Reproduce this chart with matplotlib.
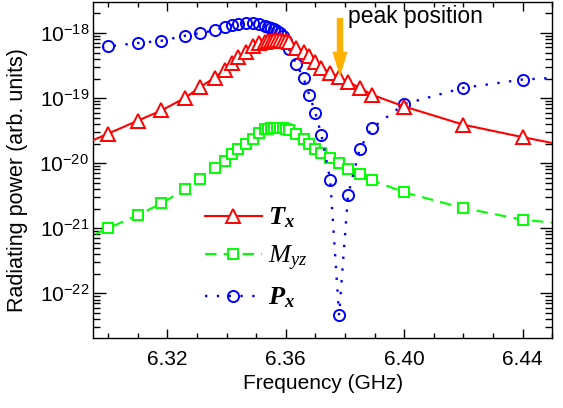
import matplotlib
matplotlib.use("Agg")
import matplotlib.pyplot as plt
from matplotlib.ticker import MultipleLocator, NullFormatter, FixedLocator, LogFormatterSciNotation

plt.rcParams['font.family'] = ['Liberation Sans', 'DejaVu Sans']
plt.rcParams['mathtext.fontset'] = 'custom'
plt.rcParams['mathtext.rm'] = 'Liberation Serif'
plt.rcParams['mathtext.it'] = 'Liberation Serif:italic'
plt.rcParams['mathtext.bf'] = 'Liberation Serif:italic:bold'

freq = [6.290, 6.300, 6.310, 6.318, 6.326, 6.331, 6.336, 6.3395, 6.342, 6.344, 6.3465,
        6.349, 6.351, 6.353, 6.354, 6.355, 6.356, 6.357, 6.358, 6.359, 6.360,
        6.361, 6.3635, 6.366, 6.368, 6.370, 6.372, 6.375, 6.378, 6.381, 6.385,
        6.389, 6.400, 6.420, 6.440, 6.460]

t_x = [1.80e-20, 2.84e-20, 4.49e-20, 6.46e-20, 1.01e-19, 1.47e-19, 2.07e-19, 2.74e-19,
       3.47e-19, 4.29e-19, 5.05e-19, 6.24e-19, 7.03e-19, 7.23e-19, 7.43e-19, 7.62e-19,
       7.73e-19, 7.78e-19, 7.76e-19, 7.62e-19, 7.43e-19, 7.18e-19, 5.96e-19, 5.18e-19,
       4.42e-19, 3.57e-19, 2.94e-19, 2.47e-19, 2.10e-19, 1.78e-19, 1.44e-19, 1.13e-19,
       7.43e-20, 3.90e-20, 2.51e-20, 1.66e-20]

m_yz = [6.2e-22, 9.98e-22, 1.59e-21, 2.40e-21, 3.98e-21, 5.66e-21, 8.51e-21, 1.08e-20,
        1.37e-20, 1.67e-20, 2.00e-20, 2.32e-20, 2.92e-20, 3.30e-20, 3.39e-20, 3.45e-20,
        3.49e-20, 3.51e-20, 3.50e-20, 3.45e-20, 3.37e-20, 3.25e-20, 2.77e-20, 2.32e-20,
        1.95e-20, 1.67e-20, 1.45e-20, 1.21e-20, 9.96e-21, 8.26e-21, 6.76e-21, 5.53e-21,
        3.55e-21, 2.04e-21, 1.35e-21, 1.10e-21]

p_x = [5.53e-19, 6.24e-19, 7.03e-19, 7.62e-19, 9.09e-19, 1.00e-18, 1.10e-18, 1.26e-18,
       1.34e-18, 1.39e-18, 1.42e-18, 1.42e-18, 1.39e-18, 1.30e-18, 1.26e-18, 1.21e-18,
       1.14e-18, 1.06e-18, 9.86e-19, 8.93e-19, 7.62e-19, 5.75e-19, 3.39e-19, 2.03e-19,
       1.10e-19, 5.92e-20, 2.72e-20, 5.57e-21, 4.57e-23, 3.22e-21, 1.67e-20, 3.42e-20,
       8.09e-20, 1.44e-19, 1.93e-19, 2.16e-19]

x_ticks = [6.32, 6.36, 6.40, 6.44]
x_tick_labels = ['6.32', '6.36', '6.40', '6.44']
y_ticks = [1e-22, 1e-21, 1e-20, 1e-19, 1e-18]

fig = plt.figure(figsize=(5.63, 4.08), dpi=100)
ax = fig.add_axes([0.1657, 0.1716, 0.981 - 0.1657, 0.995 - 0.1716])

ax.plot(freq, t_x, color='#FF0000', lw=1.5, ls='-', marker='^', ms=9.5,
        mfc='white', mec='#FF0000', mew=1.4, label=r'$\mathbf{T}_\mathbf{x}$', zorder=3)
ax.plot(freq, m_yz, color='#00FF00', lw=1.5, ls=(0, (5.5, 3.5)), marker='s', ms=7,
        mfc='white', mec='#00FF00', mew=1.4, label=r'$M_{yz}$', zorder=2)
ax.plot(freq, p_x, color='#0000FF', lw=1.7, ls=(0, (1, 4)), marker='o', ms=8,
        mfc='none', mec='#0000FF', mew=1.4, label=r'$\mathbf{P}_\mathbf{x}$', zorder=2)

ax.set_yscale('log')
ax.set_xlim(6.295, 6.45)
ax.set_ylim(2.05e-23, 3.0e-18)

ax.xaxis.set_major_locator(FixedLocator(x_ticks))
ax.set_xticklabels(x_tick_labels)
ax.xaxis.set_minor_locator(MultipleLocator(0.01))
ax.yaxis.set_major_locator(FixedLocator(y_ticks))
ax.yaxis.set_major_formatter(LogFormatterSciNotation())
minor_y = [m * 10.0 ** e for e in range(-23, -17) for m in range(2, 10)
           if 2.05e-23 <= m * 10.0 ** e <= 3.0e-18]
ax.yaxis.set_minor_locator(FixedLocator(minor_y))
ax.yaxis.set_minor_formatter(NullFormatter())

ax.tick_params(which='both', direction='in', top=True, right=True, labelsize=15, width=1)
ax.tick_params(axis='x', which='major', length=6.5, pad=9)
ax.tick_params(axis='x', which='minor', length=3.6)
ax.tick_params(axis='y', which='major', length=9, pad=3)
ax.tick_params(axis='y', which='minor', length=5)
for s in ax.spines.values():
    s.set_linewidth(1.0)

ax.set_xlabel('Frequency (GHz)', fontsize=15, labelpad=3)
ax.set_ylabel('Radiating power (arb. units)', fontsize=15.5)
ax.yaxis.set_label_coords(-0.143, 0.47)

ax.annotate('', xy=(6.3783, 2.3e-19), xytext=(6.3783, 1.66e-18),
            arrowprops=dict(width=3.6, headwidth=9.5, headlength=16, shrink=0,
                            facecolor='#FFB000', edgecolor='#FFB000'))
ax.text(6.381, 1.80e-18, 'peak position', fontsize=16.5, ha='left', va='center')

leg = ax.legend(loc='upper left', bbox_to_anchor=(0.22, 0.425), frameon=False,
                fontsize=19, handlelength=2.15, labelspacing=0.5, handletextpad=0.25,
                borderaxespad=0)

fig.savefig('out.png', dpi=100)
